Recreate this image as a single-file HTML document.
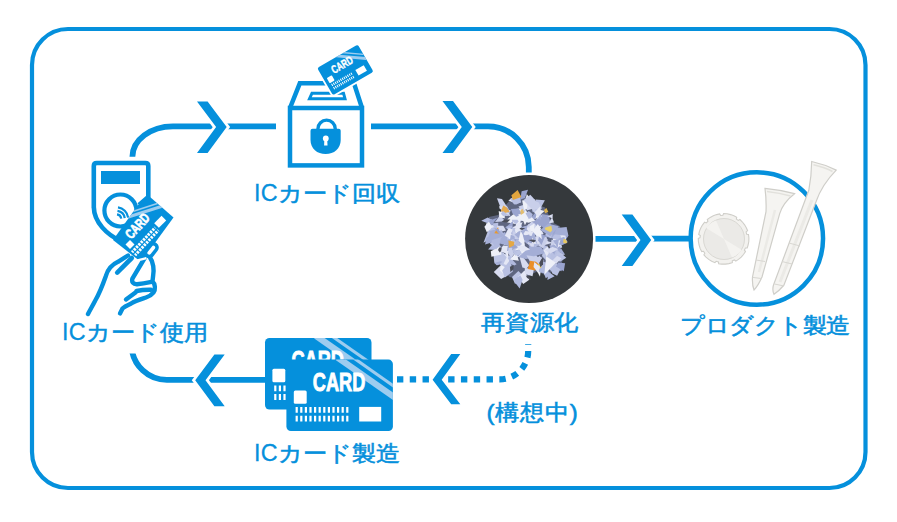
<!DOCTYPE html>
<html><head><meta charset="utf-8">
<style>
html,body{margin:0;padding:0;background:#fff;}
body{width:897px;height:522px;position:relative;overflow:hidden;font-family:"Liberation Sans",sans-serif;}
svg{position:absolute;left:0;top:0;}
.t{position:absolute;color:#0590dc;font-size:24px;line-height:1;white-space:nowrap;-webkit-text-stroke:0.6px #0590dc;transform:scaleY(0.91);transform-origin:0 0;}
.ic{display:inline-block;font-size:26.5px;transform:scaleX(0.88);transform-origin:0 100%;margin-right:-3.2px;-webkit-text-stroke:0.3px #0590dc;letter-spacing:0.3px;line-height:0;vertical-align:baseline}
</style></head><body>
<svg width="897" height="522" viewBox="0 0 897 522">
<defs>
  <clipPath id="cl1"><rect x="0" y="353.4" width="897" height="100"/></clipPath>
  <clipPath id="cc"><rect x="0" y="0" width="106.5" height="71.5" rx="4.5"/></clipPath>
  <g id="card">
    <rect x="0" y="0" width="106.5" height="71.5" rx="4.5" fill="#0590dc"/>
    <g clip-path="url(#cc)">
      <line x1="51" y1="-2.2" x2="112" y2="40.4" stroke="#9dccef" stroke-width="6.3"/>
      <line x1="66" y1="-2.5" x2="112" y2="29.7" stroke="#9dccef" stroke-width="3.1"/>
    </g>
    <text x="0" y="0" transform="translate(26.4 30.9) scale(0.7 1)" font-family="Liberation Sans" font-weight="bold" font-size="26" fill="#fff" stroke="#fff" stroke-width="0.9">CARD</text>
    <rect x="7.4" y="30.8" width="12.9" height="13.4" rx="1.5" fill="#fff"/>
    <g fill="#fff">
      <path id="bars" d="M9.2 47.4h2.2v5.8h-2.2zM13.8 47.4h2.2v5.8h-2.2zM18.4 47.4h2.2v5.8h-2.2zM23.0 47.4h2.2v5.8h-2.2zM27.6 47.4h2.2v5.8h-2.2zM32.2 47.4h2.2v5.8h-2.2zM36.8 47.4h2.2v5.8h-2.2zM41.4 47.4h2.2v5.8h-2.2zM46.0 47.4h2.2v5.8h-2.2zM50.6 47.4h2.2v5.8h-2.2zM55.2 47.4h2.2v5.8h-2.2zM59.8 47.4h2.2v5.8h-2.2z"/>
      <use href="#bars" y="8.7"/>
    </g>
    <rect x="72.8" y="47.3" width="22" height="14.6" fill="#fff"/>
  </g>
</defs>

<!-- border -->
<rect x="32" y="29" width="833.5" height="459" rx="36" fill="none" stroke="#0590dc" stroke-width="4.2"/>

<g fill="none" stroke="#0590dc" stroke-width="5.8">
  <!-- top-left path -->
  <path d="M132.4 156.8 A40.5 30.5 0 0 1 172.9 126.3 L216 126.3"/>
  <path d="M221 126.3 L276 126.3"/>
  <path d="M371 126.3 L462 126.3"/>
  <path d="M467 126.3 L488 126.3 A40.8 40.8 0 0 1 528.8 167 L528.8 172.5"/>
  <!-- photo to golf -->
  <path d="M595.5 238.9 L640.5 238.9"/>
  <path d="M646 238.7 L690 238.7"/>
  <!-- bottom left -->
  <path d="M131.5 346 A35.5 35.5 0 0 0 168 379.9 L200 379.9" clip-path="url(#cl1)"/>
  <path d="M205.5 379.9 L266 379.9"/>
</g>
<!-- dotted -->
<path d="M528.2 343.9 L528.2 351 A28.4 28.4 0 0 1 499.8 379.3 L397 379.3" fill="none" stroke="#0590dc" stroke-width="6.2" stroke-dasharray="6.4 6.4" stroke-dashoffset="5.6"/>

<!-- chevrons -->
<g fill="#0590dc" stroke="#fff" stroke-width="5.5" paint-order="stroke">
  <polygon points="197,101.5 207.6,101.5 226.7,127.1 207.6,152.9 197,152.9 216.1,127.1"/>
  <polygon points="442.5,101 453,101 472.3,127.1 453,152.9 442.5,152.9 461.8,127.1"/>
  <polygon points="621.7,214.6 632.4,214.6 651.2,240.1 632.4,266 621.7,266 640.5,240.1"/>
  <polygon points="224.7,354.6 214.4,354.6 195.2,380.2 214.4,406.3 224.7,406.3 205.5,380.2"/>
  <polygon points="460.3,354 451.2,354 432.6,379.8 451.2,404.3 460.3,404.3 441.7,379.8"/>
</g>

<!-- box icon -->
<g fill="none" stroke="#0590dc" stroke-width="4.5" stroke-linejoin="miter">
  <rect x="290" y="108" width="72" height="57.4" />
  <path d="M290 108 L299.8 83.3 L354 83.3 L362 108"/>
  <path d="M312 93.2 L343.5 93.2 L345 98.7 L309.5 98.7 Z" stroke-width="3"/>
</g>
<path d="M317.9 131 V128.9 A8.7 8.7 0 0 1 335.3 128.9 V131" fill="none" stroke="#0590dc" stroke-width="3.3"/>
<path d="M312.5 128.7 H338.7 Q340.7 128.7 340.7 130.7 V140 C340.7 148.5 334 154.1 325.6 154.1 C317.2 154.1 310.5 148.5 310.5 140 V130.7 Q310.5 128.7 312.5 128.7 Z" fill="#0590dc"/>
<g fill="#fff">
  <circle cx="325.8" cy="138.4" r="2.9"/>
  <path d="M324.4 139.5 H327.2 L327.5 145.4 H324.1 Z"/>
</g>
<!-- card above box -->
<g transform="translate(345.35 69.9) rotate(-30) scale(0.44) translate(-53.25 -35.75)">
  <rect x="-4" y="-4" width="114.5" height="79.5" rx="8" fill="#fff"/>
  <use href="#card"/>
</g>

<!-- reader + hand icon -->
<g fill="none" stroke="#0590dc" stroke-width="4.6" stroke-linejoin="round">
  <path d="M93.8 208 V166 q0 -3 3 -3 H145.3 q3 0 3 3 V197 L139 205 M93.8 207 C94 222 107 235 121 241"/>
  <circle cx="120.4" cy="210.5" r="16" stroke-width="4.2"/>
</g>
<rect x="101" y="171" width="39" height="13" fill="#0590dc"/>
<g fill="none" stroke="#0590dc" stroke-width="2.2" stroke-linecap="butt">
  <path d="M117.00 214.35 A5 5 0 0 1 121.25 218.60"/>
  <path d="M117.48 210.88 A8.5 8.5 0 0 1 124.72 218.12"/>
  <path d="M117.97 207.42 A12 12 0 0 1 128.18 217.63"/>
</g>
<!-- hand card -->
<clipPath id="hc"><polygon points="113,240 138,205 149.5,196.5 173.5,217.5 141,262"/></clipPath>
<g>
  <polygon points="113,240 138,205 149.5,196.5 173.5,217.5 141,262" fill="#0590dc"/>
  <g clip-path="url(#hc)">
    <line x1="125" y1="214" x2="165" y2="201" stroke="#9dccef" stroke-width="1.8"/>
    <line x1="122" y1="219" x2="166" y2="205" stroke="#9dccef" stroke-width="3"/>
  </g>
  <text transform="translate(131.3 239.8) rotate(-48) scale(0.72 1)" font-family="Liberation Sans" font-weight="bold" font-size="13.8" fill="#fff" stroke="#fff" stroke-width="0.7">CARD</text>
  <rect transform="translate(160.2 221.8) rotate(-45)" x="-5.2" y="-3.3" width="10.4" height="6.6" fill="#fff"/>
  <rect transform="translate(130 244.5) rotate(-45)" x="-3.2" y="-3.2" width="6.4" height="6.4" fill="#fff"/>
  <g transform="translate(145.2 241.3) rotate(-47)" fill="#fff">
    <rect x="-17" y="-3.6" width="34" height="3"/>
    <rect x="-17" y="0.6" width="34" height="3"/>
  </g>
  <g transform="translate(145.2 241.3) rotate(-47)" fill="#0590dc">
    <rect x="-15.3" y="-4" width="1.1" height="8.5"/><rect x="-11.9" y="-4" width="1.1" height="8.5"/><rect x="-8.5" y="-4" width="1.1" height="8.5"/><rect x="-5.1" y="-4" width="1.1" height="8.5"/><rect x="-1.7" y="-4" width="1.1" height="8.5"/><rect x="1.7" y="-4" width="1.1" height="8.5"/><rect x="5.1" y="-4" width="1.1" height="8.5"/><rect x="8.5" y="-4" width="1.1" height="8.5"/><rect x="11.9" y="-4" width="1.1" height="8.5"/><rect x="15.3" y="-4" width="1.1" height="8.5"/>
  </g>
</g>
<!-- hand -->
<path d="M95 301 C99 294 103 284 105.7 276.4 C107.5 270 112 264.5 118 261.8 L127 256.5 L134 261 L147 262 L151 260 C154 263 154.5 268 154 274.9 C154 278 153.3 279.5 153.3 281 C155 284 155 290 151.7 293.3 C149 296 145.6 296.3 142 297.5 C136 299 130 303 125 307 L119.5 313.2 L92 315 Z" fill="#fff"/>
<g fill="none" stroke="#0590dc" stroke-width="4.4" stroke-linecap="round" stroke-linejoin="round">
  <path d="M88 314 C90 310 93 305 95 301 C99 294 103 284 105.7 276.4 C107.5 270 112 264.5 118 261.8 L128 255.5"/>
  <path d="M117.2 272.6 L131.8 258" stroke-width="4.6"/>
  <path d="M145.6 256.5 L132.4 278.6 C131.5 282 133 284.3 137 284.2 C142 283.8 147 282.8 151.5 281.8"/>
  <path d="M136.5 291 C141 290 146 289.6 151 289.7"/>
  <path d="M126 299.5 L135.5 292.5"/>
  <path d="M150.2 258 C153.5 262 154 270 153.2 275 C152.8 279 152.5 281 152.5 281.5 C155.5 284 155.5 290 153.6 292.3 C151.5 295 148.6 296.6 146 297.5 C140 299.5 135 301 131.2 303.5 C127 305.5 124 307 122.5 308.5 L120 313.4"/>
  <rect x="-7" y="-3.6" width="14" height="7.2" rx="3.6" transform="translate(151.3 250.2) rotate(-52)" fill="#fff" stroke-width="3.6"/>
  <path d="M137.5 260.3 L145.5 258.3" stroke="#fff" stroke-width="2.4"/>
</g>

<!-- photo -->
<circle cx="529.1" cy="239" r="64" fill="#35393c"/>
<g id="shreds">
<polygon points="512.3,197.3 524.4,196.3 535.7,203.9 545.0,207.6 548.7,215.1 552.5,222.6 560.0,226.3 561.8,237.5 560.0,246.9 563.7,254.4 561.8,263.8 552.5,269.3 548.7,276.9 537.6,271.2 526.3,276.9 524.4,280.6 509.5,276.9 501.9,269.3 498.2,260.0 500.1,254.4 492.6,245.1 487.0,237.5 490.7,228.2 488.8,217.0 498.2,215.1 503.8,207.6" fill="#5f6680"/>
<polygon points="519.7,254.1 515.9,246.5 518.6,234.4 524.9,245.2" fill="#9aa4cf"/>
<polygon points="540.5,250.1 536.4,252.1 536.0,246.4 540.6,246.6" fill="#9aa4cf"/>
<polygon points="542.9,237.3 536.9,237.6 533.6,231.3 538.4,228.4 540.4,231.7" fill="#bcc4e4"/>
<polygon points="564.5,238.4 557.0,237.6 557.3,233.9 560.2,230.5 564.3,235.3" fill="#d8dcf0"/>
<polygon points="543.4,230.4 549.4,227.7 555.1,229.8 547.9,234.1" fill="#d8dcf0"/>
<polygon points="503.8,269.2 500.3,263.4 507.0,259.8 509.1,265.6" fill="#bcc4e4"/>
<polygon points="561.3,271.3 558.7,270.1 558.8,264.3 563.0,268.0" fill="#9aa4cf"/>
<polygon points="515.1,284.0 512.0,277.1 518.4,270.9 522.8,275.4" fill="#bcc4e4"/>
<polygon points="511.7,247.8 511.2,245.9 515.6,240.6 516.2,245.1 515.2,248.5" fill="#eef0f8"/>
<polygon points="537.2,222.5 541.9,214.0 548.5,215.2 551.4,226.6 545.3,229.4" fill="#9aa4cf"/>
<polygon points="550.5,251.0 552.6,242.2 560.2,239.5 562.2,247.5" fill="#c9cfea"/>
<polygon points="528.1,219.7 518.9,218.2 516.1,209.0 523.7,207.8 527.9,213.0" fill="#eef0f8"/>
<polygon points="532.3,268.9 537.9,259.6 540.6,268.1" fill="#d8dcf0"/>
<polygon points="483.5,242.8 489.0,227.9 500.1,233.3" fill="#b8c0e2"/>
<polygon points="544.1,221.7 536.0,221.1 537.6,214.7 540.7,213.6" fill="#c9cfea"/>
<polygon points="541.4,226.3 538.7,228.6 533.9,228.7 533.9,224.1 538.9,223.8" fill="#eef0f8"/>
<polygon points="547.4,279.9 548.3,271.6 554.6,276.3" fill="#b0b9de"/>
<polygon points="524.5,256.6 516.7,251.1 518.8,246.7 524.2,249.1" fill="#bcc4e4"/>
<polygon points="526.1,221.1 515.0,220.9 518.0,210.2" fill="#bcc4e4"/>
<polygon points="550.8,264.2 547.9,257.6 557.3,249.9 561.9,259.3" fill="#bcc4e4"/>
<polygon points="560.4,251.4 555.8,251.2 552.8,246.7 554.5,243.9 560.3,246.6" fill="#9aa4cf"/>
<polygon points="540.7,235.2 522.6,234.3 520.3,228.0 532.8,223.6" fill="#a4aed6"/>
<polygon points="498.8,260.8 497.4,253.6 503.3,253.0 506.2,257.9" fill="#eef0f8"/>
<polygon points="531.3,247.6 529.1,237.6 539.0,236.2 542.7,242.9" fill="#d8dcf0"/>
<polygon points="500.8,261.9 499.5,258.0 504.9,256.7 506.1,262.0" fill="#b8c0e2"/>
<polygon points="560.2,269.5 546.8,265.5 551.9,263.6" fill="#9aa4cf"/>
<polygon points="563.9,241.7 560.5,233.9 562.5,228.6 566.8,231.6 568.1,236.5" fill="#9aa4cf"/>
<polygon points="543.8,256.6 554.4,250.9 561.5,258.7 552.3,265.0" fill="#b8c0e2"/>
<polygon points="566.3,257.8 560.0,261.8 548.4,253.7 556.5,249.0" fill="#b8c0e2"/>
<polygon points="530.7,222.7 541.7,216.6 546.8,221.1 537.9,227.6" fill="#9aa4cf"/>
<polygon points="515.9,200.8 512.6,197.1 515.4,193.1 517.8,193.6 518.0,198.1" fill="#a4aed6"/>
<polygon points="524.3,214.9 518.5,206.4 526.3,204.0" fill="#c9cfea"/>
<polygon points="506.7,261.4 503.1,260.3 505.4,254.1 510.7,256.5" fill="#d8dcf0"/>
<polygon points="496.1,265.3 499.4,254.9 504.2,253.2 503.7,260.7" fill="#c9cfea"/>
<polygon points="488.4,236.1 491.3,229.4 498.5,233.7" fill="#a4aed6"/>
<polygon points="517.2,243.0 503.9,245.0 504.5,240.7 504.7,233.8 512.4,237.2" fill="#d8dcf0"/>
<polygon points="533.2,201.7 525.7,198.5 526.7,194.0" fill="#e4e7f5"/>
<polygon points="537.7,269.8 531.6,263.2 539.1,259.9" fill="#a4aed6"/>
<polygon points="516.8,231.3 517.0,224.9 519.6,219.2 522.3,227.7" fill="#bcc4e4"/>
<polygon points="526.4,268.6 522.4,267.5 519.6,257.2 522.7,256.6 529.4,265.6" fill="#d8dcf0"/>
<polygon points="542.2,245.6 541.6,241.3 543.0,236.0 546.5,236.7 548.1,242.8" fill="#c9cfea"/>
<polygon points="558.8,234.1 552.4,236.7 548.2,227.4 558.4,227.2" fill="#9aa4cf"/>
<polygon points="527.8,280.3 521.6,278.0 521.2,274.2 525.2,270.0 526.7,275.7" fill="#e4e7f5"/>
<polygon points="515.6,203.6 508.4,200.5 513.3,197.0 518.3,198.2" fill="#e4e7f5"/>
<polygon points="493.7,221.0 487.7,223.3 481.3,220.8 487.7,217.4" fill="#b0b9de"/>
<polygon points="526.9,243.5 519.8,227.5 530.1,225.1" fill="#a4aed6"/>
<polygon points="522.6,215.0 515.4,216.5 512.5,213.3 510.8,208.9 518.6,208.6" fill="#9aa4cf"/>
<polygon points="542.7,251.6 543.8,244.9 551.9,248.1 546.1,252.9" fill="#b0b9de"/>
<polygon points="543.0,245.6 543.0,239.8 552.6,242.8" fill="#d8dcf0"/>
<polygon points="526.2,249.4 514.6,251.1 509.9,246.0 513.6,235.6 521.3,240.1" fill="#bcc4e4"/>
<polygon points="552.4,273.4 550.5,269.8 555.0,265.7 561.0,268.3 557.1,275.7" fill="#b8c0e2"/>
<polygon points="521.3,202.0 515.8,204.8 510.3,198.9 516.6,197.3" fill="#b0b9de"/>
<polygon points="523.3,284.0 517.9,276.9 524.2,271.0 529.3,279.8" fill="#e4e7f5"/>
<polygon points="554.2,255.1 549.8,246.4 553.8,242.0 557.4,246.9" fill="#a4aed6"/>
<polygon points="532.3,211.6 532.1,207.7 538.0,206.4 539.5,211.8 535.4,213.1" fill="#b8c0e2"/>
<polygon points="550.6,251.8 549.8,248.4 550.6,245.3 556.9,245.4 554.4,250.6" fill="#a4aed6"/>
<polygon points="541.5,265.9 536.4,260.6 539.3,255.4 543.5,260.6" fill="#c9cfea"/>
<polygon points="536.8,215.2 535.6,199.6 544.9,200.3" fill="#b8c0e2"/>
<polygon points="557.4,248.0 554.0,240.4 565.2,232.5 566.1,240.8" fill="#e4e7f5"/>
<polygon points="493.8,272.0 500.5,265.6 507.1,267.9 507.4,275.4 501.1,279.0" fill="#d8dcf0"/>
<polygon points="524.1,209.9 522.1,200.6 531.1,199.3 529.5,208.1" fill="#eef0f8"/>
<polygon points="511.9,238.7 505.8,236.8 510.3,229.4" fill="#b0b9de"/>
<polygon points="537.5,245.1 538.3,239.3 547.8,239.2 543.3,248.4" fill="#c9cfea"/>
<polygon points="506.3,264.6 499.3,257.7 502.4,255.9 507.1,252.9 508.2,260.3" fill="#a4aed6"/>
<polygon points="539.2,244.8 534.5,248.1 525.9,243.0 529.5,235.3 535.2,240.7" fill="#b0b9de"/>
<polygon points="520.4,199.5 521.6,191.3 528.0,189.8 525.0,198.0" fill="#9aa4cf"/>
<polygon points="525.2,274.0 524.7,268.1 534.0,268.8 532.5,276.2" fill="#d8dcf0"/>
<polygon points="538.2,242.5 530.2,247.2 526.2,241.6 532.9,238.6" fill="#b0b9de"/>
<polygon points="510.2,216.3 502.7,213.7 497.0,198.2 502.0,198.9 508.0,208.3" fill="#c9cfea"/>
<polygon points="489.5,231.5 491.5,227.3 498.1,225.6 497.5,229.2" fill="#bcc4e4"/>
<polygon points="488.1,249.5 495.6,240.4 504.4,250.4" fill="#b0b9de"/>
<polygon points="543.2,235.9 552.6,232.8 556.9,239.6" fill="#a4aed6"/>
<polygon points="512.6,219.9 510.3,215.5 515.5,217.9" fill="#a4aed6"/>
<polygon points="506.1,276.2 499.8,270.4 501.0,264.7 505.2,267.4" fill="#eef0f8"/>
<polygon points="519.5,245.8 511.9,237.4 514.2,232.6 519.3,230.7 522.1,235.5" fill="#9aa4cf"/>
<polygon points="542.0,208.6 536.3,209.4 527.4,205.6 531.2,200.5 538.5,202.2" fill="#c9cfea"/>
<polygon points="526.2,243.0 519.4,238.2 520.6,232.2 528.7,235.8" fill="#a4aed6"/>
<polygon points="526.0,257.5 534.2,250.9 538.7,259.7" fill="#c9cfea"/>
<polygon points="504.0,221.8 522.7,214.2 519.1,224.7" fill="#eef0f8"/>
<polygon points="518.7,237.7 513.2,230.1 518.6,227.8" fill="#eef0f8"/>
<polygon points="530.0,219.1 535.4,212.6 539.1,215.0 532.6,221.3" fill="#9aa4cf"/>
<polygon points="547.3,216.3 552.8,214.1 552.5,218.5" fill="#d8dcf0"/>
<polygon points="510.1,263.9 507.4,265.2 501.1,263.6 502.8,257.8 511.2,259.8" fill="#d8dcf0"/>
<polygon points="509.2,246.1 497.9,242.9 498.3,235.6 504.8,232.1 511.4,240.7" fill="#a4aed6"/>
<polygon points="489.3,226.4 495.1,223.5 495.2,230.2" fill="#c9cfea"/>
<polygon points="503.0,263.2 502.7,253.0 511.9,258.2 508.0,265.8" fill="#e4e7f5"/>
<polygon points="497.5,248.2 491.6,247.5 492.9,242.9" fill="#b0b9de"/>
<polygon points="533.0,208.8 526.4,210.6 528.3,201.7 534.4,201.8" fill="#d8dcf0"/>
<polygon points="553.6,242.0 552.6,237.3 558.5,228.6 561.7,239.7" fill="#b8c0e2"/>
<polygon points="562.6,245.0 559.0,244.8 560.4,240.1 566.5,239.5 567.6,242.3" fill="#9aa4cf"/>
<polygon points="540.0,276.8 535.1,267.2 542.1,258.4" fill="#eef0f8"/>
<polygon points="535.2,220.7 528.4,222.8 521.0,220.3 518.2,214.5 527.1,212.3" fill="#eef0f8"/>
<polygon points="497.8,230.8 492.3,230.0 492.5,223.4 498.3,222.8" fill="#b8c0e2"/>
<polygon points="519.7,288.6 515.6,283.2 514.3,279.7 520.3,275.3 522.6,279.7" fill="#b0b9de"/>
<polygon points="507.3,239.7 507.3,230.5 514.7,225.9 515.9,236.3" fill="#bcc4e4"/>
<polygon points="524.8,252.4 514.2,247.2 516.9,237.7" fill="#b0b9de"/>
<polygon points="545.8,278.3 543.9,273.6 546.2,269.9 549.5,275.4" fill="#b0b9de"/>
<polygon points="507.7,257.3 504.0,250.6 507.5,246.6 508.8,250.7" fill="#eef0f8"/>
<polygon points="505.1,221.3 495.1,222.1 500.0,215.3" fill="#c9cfea"/>
<polygon points="543.6,234.0 539.7,235.6 536.8,232.8 537.6,229.3 542.0,231.0" fill="#e4e7f5"/>
<polygon points="494.3,262.7 493.4,254.0 501.9,251.7 506.6,257.2 502.8,265.6" fill="#bcc4e4"/>
<polygon points="504.8,277.6 502.2,270.6 510.1,259.8 512.8,271.5" fill="#b8c0e2"/>
<polygon points="541.2,220.6 535.2,214.0 540.6,208.9" fill="#a4aed6"/>
<polygon points="494.3,226.9 487.6,229.5 485.9,223.4 489.9,222.9" fill="#e4e7f5"/>
<polygon points="551.0,238.2 545.3,234.7 548.5,227.7 553.0,230.3" fill="#bcc4e4"/>
<polygon points="501.5,254.5 491.4,256.7 490.8,251.3 499.9,246.6" fill="#eef0f8"/>
<polygon points="537.7,244.5 536.3,240.8 536.7,233.3 543.0,240.4" fill="#d8dcf0"/>
<polygon points="497.2,247.9 489.9,243.7 493.0,239.3" fill="#bcc4e4"/>
<polygon points="523.1,238.5 510.2,239.6 513.5,231.1" fill="#c9cfea"/>
<polygon points="536.5,243.6 528.7,243.8 524.1,236.9 525.4,230.5 534.9,233.9" fill="#a4aed6"/>
<polygon points="530.4,233.7 526.7,229.3 528.4,223.9 532.6,227.2" fill="#e4e7f5"/>
<polygon points="537.9,228.9 532.3,229.3 526.8,226.4 531.6,221.6 535.2,224.0" fill="#c9cfea"/>
<polygon points="534.5,202.2 529.1,203.8 528.5,201.4 528.5,198.6 534.7,199.2" fill="#c9cfea"/>
<polygon points="535.2,219.3 538.1,209.2 544.6,211.0" fill="#eef0f8"/>
<polygon points="549.1,263.5 541.9,256.1 544.4,246.9 551.7,249.0" fill="#bcc4e4"/>
<polygon points="487.3,222.1 491.9,218.9 493.9,224.6" fill="#a4aed6"/>
<polygon points="519.4,240.2 525.3,231.0 533.2,232.0 529.3,241.5" fill="#e4e7f5"/>
<polygon points="520.9,202.6 514.1,204.4 510.2,198.7 520.3,195.7" fill="#b8c0e2"/>
<polygon points="524.9,240.8 522.9,241.6 516.1,237.1 520.1,233.4 523.2,234.9" fill="#bcc4e4"/>
<polygon points="551.9,261.0 557.1,255.8 561.4,258.3 556.1,264.1" fill="#d8dcf0"/>
<polygon points="531.3,218.1 525.8,220.1 522.8,215.5 528.9,211.0 532.7,214.2" fill="#b0b9de"/>
<polygon points="516.6,256.6 522.1,249.5 535.3,247.0 534.0,257.5 525.8,259.0" fill="#a4aed6"/>
<polygon points="535.4,212.7 523.4,200.2 530.3,194.7 536.0,201.1" fill="#c9cfea"/>
<polygon points="508.8,212.7 500.8,214.8 501.9,208.5" fill="#b0b9de"/>
<polygon points="495.1,241.5 485.1,244.4 486.3,238.1 491.6,234.1" fill="#a4aed6"/>
<polygon points="497.7,230.3 497.1,225.7 503.3,225.8 506.0,230.6 500.6,231.8" fill="#d8dcf0"/>
<polygon points="497.6,240.2 498.0,232.9 501.3,229.7 504.3,235.5" fill="#b0b9de"/>
<polygon points="541.5,245.0 538.1,240.6 539.8,233.4 545.3,235.8" fill="#9aa4cf"/>
<polygon points="521.3,221.3 516.0,222.2 507.0,219.4 513.4,214.3" fill="#eef0f8"/>
<polygon points="548.8,223.3 552.0,217.3 554.0,222.4" fill="#d8dcf0"/>
<polygon points="490.9,225.7 489.4,220.5 497.5,217.7" fill="#9aa4cf"/>
<polygon points="557.1,239.3 564.3,236.8 565.6,241.1" fill="#a4aed6"/>
<polygon points="550.3,230.0 544.2,229.4 548.3,226.2" fill="#b0b9de"/>
<polygon points="499.2,251.2 503.1,245.6 511.1,246.1 508.0,253.9" fill="#e4e7f5"/>
<polygon points="495.9,249.4 491.5,240.9 495.2,232.7 501.4,234.5 499.4,245.5" fill="#b0b9de"/>
<polygon points="524.9,225.2 520.9,214.5 524.5,211.8 528.6,218.6" fill="#eef0f8"/>
<polygon points="548.1,267.1 549.4,262.6 556.8,263.6 557.5,266.6 550.2,270.6" fill="#b8c0e2"/>
<polygon points="548.7,274.4 539.1,272.1 534.0,258.0 547.2,263.1" fill="#b0b9de"/>
<polygon points="565.2,254.7 558.5,251.9 561.0,248.2" fill="#a4aed6"/>
<polygon points="544.3,274.8 546.2,256.2 555.8,262.8" fill="#eef0f8"/>
<polygon points="514.5,234.8 520.2,229.7 525.5,236.6 520.8,239.6" fill="#a4aed6"/>
<polygon points="524.5,240.6 525.3,235.4 529.2,234.6 530.1,237.8" fill="#9aa4cf"/>
<polygon points="537.4,236.6 532.3,231.3 537.8,224.1 541.0,228.5" fill="#eef0f8"/>
<polygon points="496.9,265.2 494.2,263.1 500.3,261.2 502.5,261.7 498.5,265.0" fill="#a4aed6"/>
<polygon points="515.9,258.9 514.2,250.7 523.9,242.4 525.5,250.8" fill="#eef0f8"/>
<polygon points="486.8,232.3 484.4,226.7 488.9,221.6 491.6,226.7 490.8,229.0" fill="#eef0f8"/>
<polygon points="507.3,216.1 500.8,214.5 501.9,207.2 510.8,210.4" fill="#d8dcf0"/>
<polygon points="540.3,230.0 548.1,223.7 558.9,226.3 550.3,236.3" fill="#a4aed6"/>
<polygon points="511.8,261.5 507.9,259.1 508.4,256.0 510.7,255.1 513.6,258.6" fill="#b8c0e2"/>
<polygon points="505.0,227.9 513.3,220.8 511.9,229.7" fill="#9aa4cf"/>
<polygon points="527.7,243.6 531.1,236.4 536.7,243.7" fill="#eef0f8"/>
<polygon points="514.2,265.6 510.7,264.0 508.9,260.4 511.9,259.2 516.6,264.3" fill="#b0b9de"/>
<polygon points="508.3,209.7 504.9,210.9 499.8,209.1 499.0,206.2 507.3,206.6" fill="#d8dcf0"/>
<polygon points="563.8,271.2 555.9,266.5 558.1,262.6 565.1,263.2" fill="#9aa4cf"/>
<polygon points="530.1,249.6 519.4,252.3 515.7,245.8 524.9,246.0" fill="#e4e7f5"/>
<polygon points="518.3,247.2 507.0,251.0 508.7,240.6" fill="#9aa4cf"/>
<polygon points="513.5,238.3 509.0,239.2 506.5,231.9 511.3,230.5" fill="#e4e7f5"/>
<polygon points="524.6,245.9 518.4,240.8 520.7,231.1 524.4,237.7" fill="#eef0f8"/>
<polygon points="547.7,252.8 549.6,244.5 554.5,252.9" fill="#9aa4cf"/>
<polygon points="532.4,241.9 531.6,243.7 524.2,240.2 522.8,235.0 531.8,235.9" fill="#9aa4cf"/>
<polygon points="533.5,250.4 529.2,243.8 534.0,242.7" fill="#d8dcf0"/>
<polygon points="538.7,217.4 534.4,212.6 540.3,206.2 540.7,211.0" fill="#e4e7f5"/>
<polygon points="504.6,236.0 492.2,240.0 489.2,231.0 497.7,229.3" fill="#a4aed6"/>
<polygon points="521.4,253.0 518.0,256.8 512.0,250.9 519.1,249.8" fill="#a4aed6"/>
<polygon points="518.9,260.7 510.1,259.4 515.9,252.6" fill="#eef0f8"/>
<polygon points="535.8,252.9 535.4,246.5 541.8,249.2" fill="#d8dcf0"/>
<polygon points="540.8,262.9 539.6,269.4 530.0,261.7 526.4,255.2 542.3,257.5" fill="#c9cfea"/>
<polygon points="503.2,210.9 504.2,206.7 508.3,207.9 509.7,213.1" fill="#9aa4cf"/>
<polygon points="554.1,234.3 556.8,228.1 566.6,227.1 568.5,236.1" fill="#a4aed6"/>
<polygon points="545.4,253.1 534.2,256.3 528.6,246.4 541.0,246.9" fill="#a4aed6"/>
<polygon points="512.8,200.0 511.4,195.2 517.6,190.1 521.4,197.0" fill="#e3a63e"/>
<polygon points="500.9,210.9 503.3,205.4 506.5,207.2 509.6,211.8 504.0,213.2" fill="#e5ab50"/>
<polygon points="499.1,233.8 494.3,233.2 498.1,226.9" fill="#e8982f"/>
<polygon points="509.0,247.8 508.4,240.5 514.4,241.8 513.8,245.4" fill="#e4a846"/>
<polygon points="527.8,269.0 530.0,260.7 535.9,261.7 539.2,264.4 535.2,270.5" fill="#ea8f28"/>
<polygon points="537.0,267.6 536.9,265.8 541.4,261.9 541.2,268.1" fill="#f0d15a"/>
<polygon points="552.2,230.2 550.4,232.3 544.7,229.2 545.5,227.4 551.3,225.8" fill="#e9d06a"/>
<polygon points="520.8,214.9 520.3,210.8 522.5,208.7 524.4,212.7" fill="#e3bd70"/>
<polygon points="566.1,243.4 563.2,242.7 563.5,238.9 565.2,239.0 567.3,242.0" fill="#e8c860"/>
<polygon points="545.3,213.2 543.9,209.9 546.5,208.0 547.5,210.3 548.3,211.7" fill="#d8b050"/>
<polygon points="501.6,221.8 504.6,219.6 510.3,219.6 506.9,222.8" fill="#4a4d58"/>
<polygon points="536.0,240.6 533.9,242.5 528.3,240.1 533.2,239.4" fill="#4a4d58"/>
<polygon points="540.4,267.2 539.2,262.9 541.4,259.1 543.0,257.8 543.0,264.3" fill="#4a4d58"/>
<polygon points="518.0,230.4 520.0,227.6 525.3,228.3 521.5,230.2" fill="#4a4d58"/>
<polygon points="550.9,250.9 547.4,246.1 549.3,245.3" fill="#4a4d58"/>
<polygon points="499.8,252.6 498.0,250.1 499.3,247.6 501.8,247.5 501.1,250.9" fill="#4a4d58"/>
<polygon points="531.1,279.8 527.1,278.0 525.8,275.6 529.2,276.2" fill="#4a4d58"/>
<polygon points="510.4,272.2 509.9,266.8 513.6,265.2 513.5,268.9" fill="#4a4d58"/>
<polygon points="512.5,228.0 520.2,222.7 520.8,227.9" fill="#e4e7f5"/>
<polygon points="507.2,229.1 506.3,226.5 512.9,225.7 509.6,230.5" fill="#b0b9de"/>
<polygon points="513.8,237.2 507.5,237.4 508.2,233.7" fill="#e4e7f5"/>
<polygon points="514.8,229.9 516.1,223.8 522.7,222.3 518.9,230.1" fill="#e4e7f5"/>
<polygon points="546.7,256.5 543.5,250.4 547.7,246.2 548.9,252.9" fill="#e4e7f5"/>
<polygon points="512.2,236.9 507.8,236.9 506.5,231.7 509.9,228.5 512.4,233.6" fill="#a4aed6"/>
<polygon points="511.6,257.4 508.4,254.0 508.4,248.0 512.0,247.7 514.2,254.1" fill="#c9cfea"/>
<polygon points="541.9,239.3 537.3,235.1 537.4,226.4 540.7,230.4" fill="#eef0f8"/>
<polygon points="556.3,246.3 551.7,242.2 553.1,238.9 555.9,239.5" fill="#eef0f8"/>
<polygon points="518.7,221.4 515.9,224.3 512.1,221.1 512.0,219.7 517.5,219.8" fill="#b8c0e2"/>
<polygon points="512.0,238.8 506.0,236.3 507.7,231.3 511.6,233.8" fill="#eef0f8"/>
<polygon points="509.4,237.1 504.7,235.9 508.7,227.9 512.8,229.4" fill="#e4e7f5"/>
<polygon points="522.5,230.2 515.9,232.3 517.3,227.9" fill="#e4e7f5"/>
<polygon points="509.9,240.6 510.7,234.7 514.2,236.0 515.1,238.4" fill="#a4aed6"/>
<polygon points="499.4,234.7 494.2,228.0 499.2,229.6" fill="#9aa4cf"/>
<polygon points="558.9,242.3 550.5,245.9 551.6,239.5" fill="#c9cfea"/>
<polygon points="538.0,272.8 533.5,267.0 534.3,262.1 540.0,266.7" fill="#e4e7f5"/>
<polygon points="530.9,231.5 529.3,226.5 534.5,223.4 534.1,231.7" fill="#eef0f8"/>
<polygon points="504.8,218.2 499.3,217.4 498.7,211.0 502.8,212.4 504.6,213.9" fill="#eef0f8"/>
<polygon points="557.7,248.0 553.0,240.2 558.8,239.7" fill="#a4aed6"/>
<polygon points="522.0,254.0 515.4,255.8 513.3,251.9 519.3,249.7" fill="#bcc4e4"/>
<polygon points="517.6,253.4 512.6,251.5 513.1,248.7" fill="#b8c0e2"/>
<polygon points="508.2,214.8 503.3,216.3 500.9,213.7 502.9,210.9" fill="#b8c0e2"/>
<polygon points="565.2,254.4 555.4,256.0 557.7,251.9" fill="#bcc4e4"/>
<polygon points="544.9,250.3 552.5,247.1 558.5,249.1 550.5,253.4" fill="#d8dcf0"/>
</g>

<!-- golf -->
<circle cx="756.85" cy="238.5" r="66.2" fill="none" stroke="#0590dc" stroke-width="4.5"/>
<g id="marker">
  <path d="M723.6 213.6 L727.1 213.8 L730.6 214.6 L733.9 215.8 L736.7 217.3 L736.4 219.1 L738.3 220.4 L739.9 219.5 L742.4 222.0 L744.6 224.8 L746.3 227.8 L747.6 230.7 L746.1 231.9 L746.7 234.2 L748.5 234.5 L748.9 238.0 L748.8 241.5 L748.1 245.0 L747.2 248.0 L745.4 248.0 L744.4 250.1 L745.5 251.6 L743.5 254.5 L741.2 257.1 L738.5 259.4 L735.8 261.1 L734.4 259.9 L732.3 260.8 L732.3 262.7 L728.9 263.6 L725.4 264.1 L721.8 264.1 L718.7 263.7 L718.4 261.9 L716.2 261.3 L714.9 262.7 L711.7 261.2 L708.7 259.4 L706.0 257.1 L703.9 254.8 L704.8 253.2 L703.5 251.3 L701.7 251.6 L700.1 248.4 L699.1 245.0 L698.4 241.5 L698.3 238.4 L700.0 237.7 L700.3 235.5 L698.7 234.5 L699.5 231.1 L700.9 227.8 L702.6 224.8 L704.6 222.2 L706.3 222.9 L707.9 221.3 L707.3 219.5 L710.2 217.4 L713.3 215.8 L716.6 214.6 L719.7 213.9 L720.6 215.5 L722.9 215.3 Z" fill="#f3f2ef" stroke="#cfcec9" stroke-width="1.1"/>
  <circle cx="724" cy="239" r="20.5" fill="#ebeae7" stroke="#d9d8d3" stroke-width="1"/>
  <path d="M724 239 L706 228 A20.5 20.5 0 0 1 716 220.5 Z M724 239 L742 250 A20.5 20.5 0 0 1 732 257.5 Z" fill="#f4f3f0"/>
</g>
<g id="tees">
  <path d="M765 188.4 Q780 189.8 794.5 193.7 C787 199.5 782 206 779.7 213.7 L762 277 Q758 286 754 290 Q752 285 752.5 277 L766 211.6 Q766.5 200 765 188.4 Z" fill="#f5f4f1" stroke="#cfcec9" stroke-width="1.2"/>
  <path d="M767 191.5 Q780 193 790.5 196" fill="none" stroke="#e2e1dc" stroke-width="1.6"/>
  <path d="M775 210 L759 272" stroke="#ebeae6" stroke-width="2.5"/>
  <path d="M756 260 L765 261.5 M752.8 277.4 L762 278.6" stroke="#d8d7d2" stroke-width="1"/>
  <path d="M811.7 161.5 Q825 164.5 836.2 170.1 C828 178.5 820 190 816 201.8 L784 285 Q779 291 774 294.3 Q772 290 773.5 285 L808.8 190.3 Q811.5 176 811.7 161.5 Z" fill="#f5f4f1" stroke="#cfcec9" stroke-width="1.2"/>
  <path d="M813.5 164.8 Q825 167.5 832.5 171.5" fill="none" stroke="#e2e1dc" stroke-width="1.6"/>
  <path d="M812 200 L780 282" stroke="#ebeae6" stroke-width="3"/>
  <path d="M789 243 L800 246 M782 261.5 L792 264 M774.5 284 L784 286" stroke="#d8d7d2" stroke-width="1"/>
</g>

<!-- bottom cards -->
<use href="#card" x="265" y="338"/>
<use href="#card" x="286.4" y="359.6"/>
</svg>

<div class="t" style="left:254px;top:182.7px;letter-spacing:0px"><span class="ic">IC</span>カード回収</div>
<div class="t" style="left:62px;top:322px;letter-spacing:0px"><span class="ic">IC</span>カード使用</div>
<div class="t" style="left:254px;top:443px;letter-spacing:0px"><span class="ic">IC</span>カード製造</div>
<div class="t" style="left:481px;top:311.5px;letter-spacing:.3px">再資源化</div>
<div class="t" style="left:680px;top:314.5px;letter-spacing:-.5px">プロダクト製造</div>
<div class="t" style="left:486.5px;top:401.5px;letter-spacing:.8px">(構想中)</div>
</body></html>
